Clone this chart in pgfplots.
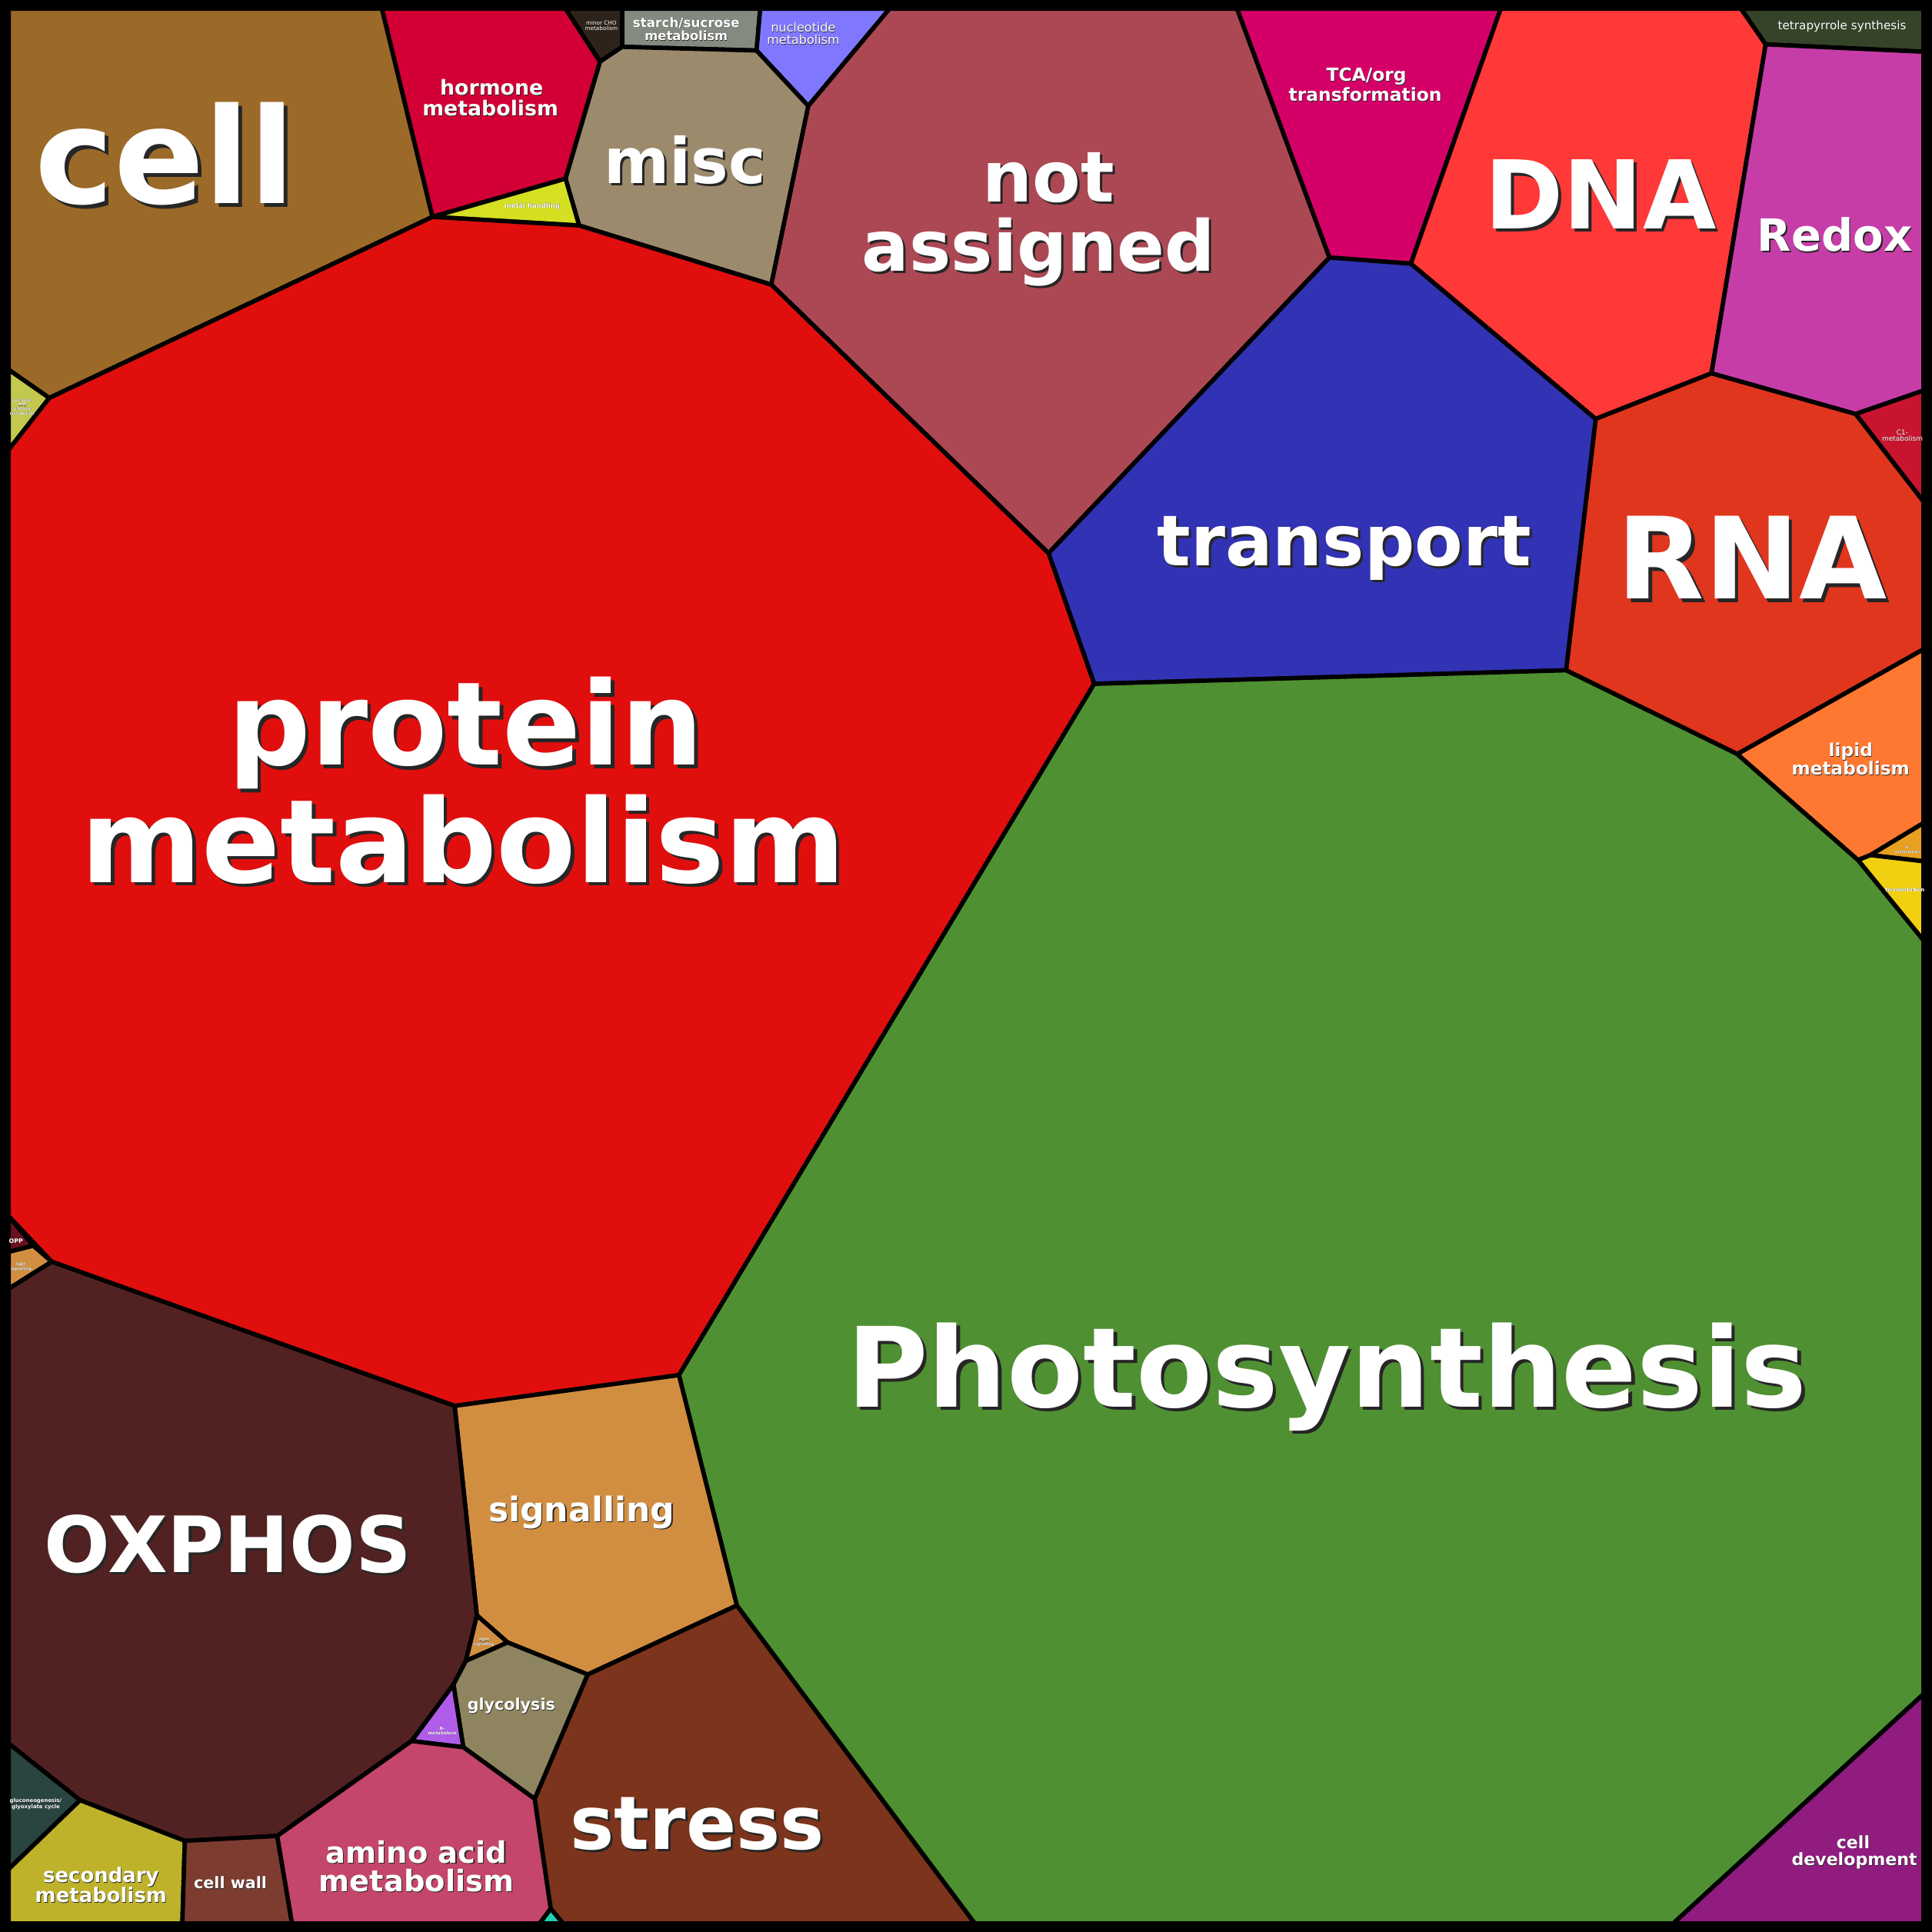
\documentclass[border=0pt]{standalone}
\usepackage{pgfplots}
\pgfplotsset{compat=1.18}
\usepackage{fontspec}
\setmainfont{DejaVu Sans}

\definecolor{cCell}{HTML}{9B6A28}
\definecolor{cHorm}{HTML}{D20034}
\definecolor{cMinor}{HTML}{2E231A}
\definecolor{cStarch}{HTML}{858A80}
\definecolor{cNucl}{HTML}{8077FF}
\definecolor{cMisc}{HTML}{9C8A6C}
\definecolor{cMetal}{HTML}{D4E021}
\definecolor{cNotA}{HTML}{AC4854}
\definecolor{cTCA}{HTML}{D40068}
\definecolor{cDNA}{HTML}{FF3838}
\definecolor{cTetra}{HTML}{354428}
\definecolor{cRedox}{HTML}{C63DA8}
\definecolor{cCone}{HTML}{C8142E}
\definecolor{cRNA}{HTML}{E0361E}
\definecolor{cTrans}{HTML}{3232B4}
\definecolor{cProt}{HTML}{E10E0E}
\definecolor{cCof}{HTML}{C4C84E}
\definecolor{cPhoto}{HTML}{4F9032}
\definecolor{cLipid}{HTML}{FF7832}
\definecolor{cSass}{HTML}{E8A020}
\definecolor{cFerm}{HTML}{F0D010}
\definecolor{cDev}{HTML}{901C80}
\definecolor{cOPP}{HTML}{6A1020}
\definecolor{cSig}{HTML}{D28E40}
\definecolor{cOx}{HTML}{522222}
\definecolor{cGly}{HTML}{8E8560}
\definecolor{cNmet}{HTML}{B05CE8}
\definecolor{cGluco}{HTML}{2A4440}
\definecolor{cSec}{HTML}{BEB22A}
\definecolor{cWall}{HTML}{7C3C30}
\definecolor{cAmino}{HTML}{C4466A}
\definecolor{cStress}{HTML}{7C341C}
\definecolor{cTeal}{HTML}{20D0B0}

% white text with a dark drop shadow, in one box
\newcommand{\sh}[1]{\leavevmode\rlap{\kern0.03em\raisebox{-0.03em}{\textcolor{black!85}{#1}}}#1}
% label: x, y (baseline), font size, text
\newcommand{\lab}[4]{%
  \node[anchor=base, text=white, inner sep=0pt, font=\fontsize{#3}{#3}\selectfont\bfseries]
        at (axis cs:#1,#2) {\sh{#4}};
}
\newcommand{\labr}[4]{%
  \node[anchor=base, text=white, inner sep=0pt, font=\fontsize{#3}{#3}\selectfont]
        at (axis cs:#1,#2) {\sh{#4}};
}

\begin{document}
\begin{tikzpicture}
\begin{axis}[
    hide axis,
    scale only axis,
    width=1568pt, height=1568pt,
    xmin=0, xmax=1568, ymin=0, ymax=1568,
    y dir=reverse,
    every axis plot/.append style={draw=black, line width=3.5pt, line join=round},
]
% cells
\addplot[fill=cCell] coordinates {(7,7) (310,7) (351,176) (40,323) (7,300)} -- cycle;
\addplot[fill=cHorm] coordinates {(310,7) (459,7) (487,50) (459,145) (351,176)} -- cycle;
\addplot[fill=cMinor] coordinates {(459,7) (505,7) (505,38) (487,50)} -- cycle;
\addplot[fill=cStarch] coordinates {(505,7) (617,7) (614,41) (505,38)} -- cycle;
\addplot[fill=cNucl] coordinates {(617,7) (722,7) (656,86) (614,41)} -- cycle;
\addplot[fill=cMisc] coordinates {(487,50) (505,38) (614,41) (656,86) (626,231) (470,183) (459,145)} -- cycle;
\addplot[fill=cMetal] coordinates {(351,176) (459,145) (470,183)} -- cycle;
\addplot[fill=cNotA] coordinates {(722,7) (1004,7) (1079,209) (851,449) (626,231) (656,86)} -- cycle;
\addplot[fill=cTCA] coordinates {(1004,7) (1218,7) (1145,214) (1079,209)} -- cycle;
\addplot[fill=cDNA] coordinates {(1218,7) (1413,7) (1433,36) (1389,303) (1295,340) (1145,214)} -- cycle;
\addplot[fill=cTetra] coordinates {(1413,7) (1561,7) (1561,42) (1433,36)} -- cycle;
\addplot[fill=cRedox] coordinates {(1433,36) (1561,42) (1561,317) (1506,336) (1389,303)} -- cycle;
\addplot[fill=cCone] coordinates {(1506,336) (1561,317) (1561,407)} -- cycle;
\addplot[fill=cRNA] coordinates {(1295,340) (1389,303) (1506,336) (1561,407) (1561,527) (1410,612) (1271,544)} -- cycle;
\addplot[fill=cTrans] coordinates {(851,449) (1079,209) (1145,214) (1295,340) (1271,544) (888,555)} -- cycle;
\addplot[fill=cCof] coordinates {(7,300) (40,323) (7,365)} -- cycle;
\addplot[fill=cProt] coordinates {(7,365) (40,323) (351,176) (470,183) (626,231) (851,449) (888,555) (551,1116) (369,1141) (42,1024) (7,987)} -- cycle;
\addplot[fill=cOPP] coordinates {(7,987) (27,1011) (7,1016)} -- cycle;
\addplot[fill=cSig] coordinates {(7,1016) (27,1011) (42,1024) (7,1046)} -- cycle;
\addplot[fill=cPhoto] coordinates {(888,555) (1271,544) (1410,612) (1508,698) (1561,763) (1561,1375) (1358,1561) (791,1561) (598,1303) (551,1116)} -- cycle;
\addplot[fill=cLipid] coordinates {(1410,612) (1561,527) (1561,668) (1518,694) (1508,698)} -- cycle;
\addplot[fill=cSass] coordinates {(1518,694) (1561,668) (1561,699)} -- cycle;
\addplot[fill=cFerm] coordinates {(1508,698) (1518,694) (1561,699) (1561,763)} -- cycle;
\addplot[fill=cDev] coordinates {(1358,1561) (1561,1375) (1561,1561)} -- cycle;
\addplot[fill=cSig] coordinates {(369,1141) (551,1116) (598,1303) (477,1359) (412,1333) (387,1311)} -- cycle;
\addplot[fill=cSig] coordinates {(387,1311) (412,1333) (378,1348)} -- cycle;
\addplot[fill=cGly] coordinates {(378,1348) (412,1333) (477,1359) (434,1460) (376,1418) (368,1367)} -- cycle;
\addplot[fill=cNmet] coordinates {(368,1367) (376,1418) (334,1413)} -- cycle;
\addplot[fill=cOx] coordinates {(7,1046) (42,1024) (369,1141) (387,1311) (378,1348) (368,1367) (334,1413) (225,1490) (150,1494) (65,1461) (7,1415)} -- cycle;
\addplot[fill=cGluco] coordinates {(7,1415) (65,1461) (7,1517)} -- cycle;
\addplot[fill=cSec] coordinates {(7,1517) (65,1461) (150,1494) (148,1561) (7,1561)} -- cycle;
\addplot[fill=cWall] coordinates {(150,1494) (225,1490) (237,1561) (148,1561)} -- cycle;
\addplot[fill=cAmino] coordinates {(225,1490) (334,1413) (376,1418) (434,1460) (447,1549) (438,1561) (237,1561)} -- cycle;
\addplot[fill=cTeal] coordinates {(438,1561) (447,1549) (457,1561)} -- cycle;
\addplot[fill=cStress] coordinates {(434,1460) (477,1359) (598,1303) (791,1561) (457,1561) (447,1549)} -- cycle;

% frame
\draw[line width=7.5pt] (axis cs:3.75,3.75) rectangle (axis cs:1564.25,1564.25);

% labels
\lab{1077}{1142}{90}{Photosynthesis}
\lab{378}{621}{94}{protein}
\lab{376}{716}{94}{metabolism}
\lab{134}{165}{108}{cell}
\lab{1299}{186}{77}{DNA}
\lab{1422}{486}{92}{RNA}
\lab{1091}{459}{57}{transport}
\lab{851}{164}{57}{not}
\lab{843}{220}{57}{assigned}
\lab{556}{149}{51}{misc}
\lab{185}{1276}{63}{OXPHOS}
\lab{566}{1501}{60}{stress}
\lab{1489}{204}{36}{Redox}
\lab{472}{1235}{27.5}{signalling}
\lab{338}{1512}{24}{amino acid}
\lab{338}{1535}{24}{metabolism}
\lab{399}{77}{16.7}{hormone}
\lab{398}{94}{16.7}{metabolism}
\lab{1502}{614}{14.5}{lipid}
\lab{1502}{629}{14.5}{metabolism}
\lab{1109}{66}{14.6}{TCA/org}
\lab{1108}{82}{14.6}{transformation}
\lab{1504}{1500}{13.8}{cell}
\lab{1505}{1514}{13.8}{development}
\lab{82}{1528}{16.2}{secondary}
\lab{82}{1544}{16.2}{metabolism}
\lab{187}{1533}{12.9}{cell wall}
\lab{415}{1388}{12.9}{glycolysis}
\lab{557}{22}{10.5}{starch/sucrose}
\lab{557}{33}{10.2}{metabolism}
\labr{652}{26}{10}{nucleotide}
\labr{652}{36}{10}{metabolism}
\labr{1495}{24}{9.5}{tetrapyrrole synthesis}
\labr{488}{20}{4.5}{minor CHO}
\labr{488}{24.5}{4.5}{metabolism}
\lab{432}{169}{5.3}{metal handling}
\lab{18}{326}{3}{Co-factor}
\lab{18}{329.5}{3}{and}
\lab{18}{333}{3}{vitamine}
\lab{18}{336.5}{3}{metabolism}
\lab{13}{1009}{4.9}{OPP}
\lab{17}{1027}{3}{light}
\lab{17}{1031}{3}{signalling}
\lab{393}{1332}{3}{light}
\lab{393}{1335.5}{3}{signalling}
\lab{359}{1404}{3.5}{N-}
\lab{359}{1408}{3.5}{metabolism}
\lab{29}{1463}{4.3}{gluconeogenesis/}
\lab{29}{1467.5}{4.3}{glyoxylate cycle}
\labr{1544}{353}{5.6}{C1-}
\labr{1544}{358}{5.6}{metabolism}
\lab{1548}{689}{3}{S-}
\lab{1548}{692.5}{3}{assimilation}
\lab{1546}{723.5}{4.3}{fermentation}
\end{axis}
\pgfresetboundingbox
\path[use as bounding box] (0,0) rectangle (1568pt,1568pt);
\end{tikzpicture}
\end{document}
